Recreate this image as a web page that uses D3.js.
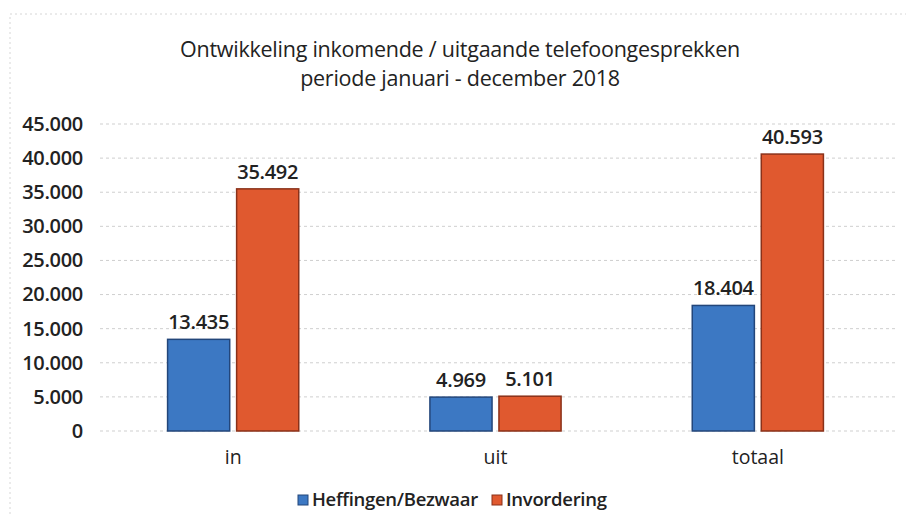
<!DOCTYPE html>
<html>
<head>
<meta charset="utf-8">
<script src="https://cdn.jsdelivr.net/npm/d3@7"></script>
<style>
  body { margin: 0; background: #fff; }
  svg { font-family: "Open Sans", "Noto Sans", sans-serif; }
</style>
</head>
<body>
<svg id="chart" width="906" height="515"></svg>
<script>
// data
var categories = ["in", "uit", "totaal"];
var seriesNames = ["Heffingen/Bezwaar", "Invordering"];
var heffingen = [13435, 4969, 18404];
var invordering = [35492, 5101, 40593];
var yTicks = [0, 5000, 10000, 15000, 20000, 25000, 30000, 35000, 40000, 45000];
var titleLines = ["Ontwikkeling inkomende / uitgaande telefoongesprekken", "periode januari - december 2018"];

var colors = ["#3c78c3", "#e0592f"];
var strokes = ["#23467a", "#8a3119"];

var svg = d3.select("#chart");

// faint scan border
svg.append("rect")
    .attr("x", 10).attr("y", 14).attr("width", 900).attr("height", 520)
    .style("fill", "none").style("stroke", "#d6d6d6").style("stroke-dasharray", "2,3");

var fmt = function (v) { return d3.format(",")(v).replace(/,/g, "."); };

var x = d3.scaleBand().domain(categories).range([102, 889]).paddingInner(0.5).paddingOuter(0.25);
var x1 = d3.scaleBand().domain(seriesNames).range([0, x.bandwidth()]).paddingInner(0.1);
var y = d3.scaleLinear().domain([0, 45000]).range([431, 124]);

// title
svg.selectAll(".title")
    .data(titleLines)
    .enter().append("text")
    .attr("x", 460)
    .attr("y", function (d, i) { return 57 + i * 29; })
    .attr("text-anchor", "middle")
    .style("font-size", "21.5px")
    .style("fill", "#222")
    .style("letter-spacing", "-0.25px")
    .text(function (d) { return d; });

// grid
svg.append("g").selectAll("line")
    .data(yTicks)
    .enter().append("line")
    .attr("x1", 100).attr("x2", 895)
    .attr("y1", function (d) { return y(d); })
    .attr("y2", function (d) { return y(d); })
    .style("stroke", "#cfcfcf")
    .style("stroke-dasharray", "3,3");

// y axis
var yAxis = svg.append("g")
    .attr("transform", "translate(90,0)")
    .call(d3.axisLeft(y).tickValues(yTicks).tickSize(0).tickPadding(7).tickFormat(fmt));
yAxis.select(".domain").remove();
yAxis.selectAll("text").style("font-size", "20px").style("font-weight", "600").style("fill", "#222")
    .style("letter-spacing", "-0.3px").style("font-family", "'Open Sans', sans-serif");

// x axis labels
var xAxis = svg.append("g")
    .attr("transform", "translate(0,431)")
    .call(d3.axisBottom(x).tickSize(0).tickPadding(19));
xAxis.select(".domain").remove();
xAxis.selectAll("text").style("font-size", "19.5px").style("fill", "#222").style("font-family", "'Open Sans', sans-serif");

// bars
var rows = categories.map(function (c, i) {
    return { cat: c, values: [heffingen[i], invordering[i]] };
});

var groups = svg.selectAll(".grp")
    .data(rows)
    .enter().append("g")
    .attr("transform", function (d) { return "translate(" + x(d.cat) + ",0)"; });

groups.selectAll("rect")
    .data(function (d) { return d.values.map(function (v, j) { return { s: seriesNames[j], v: v, j: j }; }); })
    .enter().append("rect")
    .attr("x", function (d) { return x1(d.s); })
    .attr("y", function (d) { return y(d.v); })
    .attr("width", x1.bandwidth())
    .attr("height", function (d) { return y(0) - y(d.v); })
    .style("fill", function (d) { return colors[d.j]; })
    .style("stroke", function (d) { return strokes[d.j]; })
    .style("stroke-width", 1.5);

groups.selectAll(".lbl")
    .data(function (d) { return d.values.map(function (v, j) { return { s: seriesNames[j], v: v }; }); })
    .enter().append("text")
    .attr("x", function (d) { return x1(d.s) + x1.bandwidth() / 2; })
    .attr("y", function (d) { return y(d.v) - 10; })
    .attr("text-anchor", "middle")
    .style("font-size", "20px")
    .style("font-weight", "600")
    .style("letter-spacing", "-0.3px")
    .style("fill", "#222")
    .text(function (d) { return fmt(d.v); });

// legend
var legend = svg.append("g").attr("transform", "translate(0,500)");
var legX = [298, 492];
seriesNames.forEach(function (n, i) {
    legend.append("rect")
        .attr("x", legX[i]).attr("y", -5).attr("width", 10).attr("height", 10)
        .style("fill", colors[i]).style("stroke", strokes[i]);
    legend.append("text")
        .attr("x", legX[i] + 14).attr("y", 1)
        .attr("dominant-baseline", "middle")
        .style("font-size", "18.5px")
        .style("font-weight", "600")
        .style("letter-spacing", "-0.3px")
        .style("fill", "#222")
        .text(n);
});
</script>
</body>
</html>
